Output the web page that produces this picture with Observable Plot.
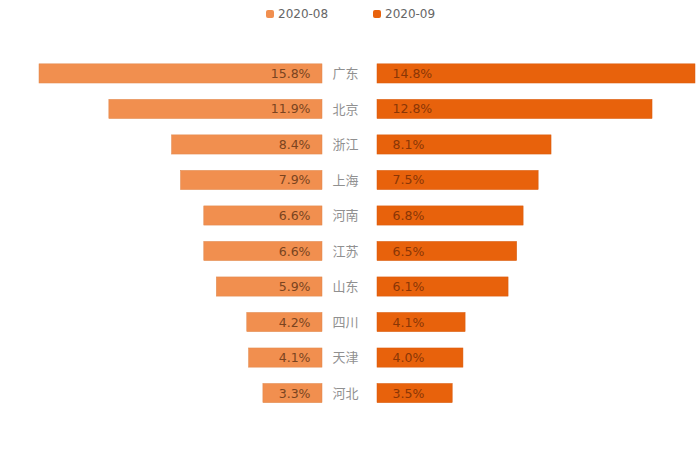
<!DOCTYPE html>
<html>
<head>
<meta charset="utf-8">
<script src="https://cdn.jsdelivr.net/npm/d3@7"></script>
<script src="https://cdn.jsdelivr.net/npm/@observablehq/plot@0.6"></script>
<style>
  html, body { margin: 0; padding: 0; background: #fff; }
  #wrap { position: relative; width: 700px; height: 466px; overflow: hidden; font-family: "DejaVu Sans", "Noto Sans CJK SC", sans-serif; }
  #legend { position: absolute; left: 0; top: 0; width: 700px; height: 28px; }
  .li { position: absolute; top: 7px; font-size: 12px; color: #666; line-height: 14px; white-space: nowrap; }
  .sw { display: inline-block; width: 8px; height: 8px; border-radius: 2px; margin-right: 4px; vertical-align: 0px; }
  #left { position: absolute; left: 0; top: 28px; z-index: 2; }
  #right { position: absolute; left: 350px; top: 28px; z-index: 1; }
  svg { overflow: visible; }
</style>
</head>
<body>
<div id="wrap">
  <div id="legend"></div>
  <div id="left"></div>
  <div id="right"></div>
</div>
<script>
const provinces = ["广东", "北京", "浙江", "上海", "河南", "江苏", "山东", "四川", "天津", "河北"];
const aug = [15.8, 11.9, 8.4, 7.9, 6.6, 6.6, 5.9, 4.2, 4.1, 3.3];
const sep = [14.8, 12.8, 8.1, 7.5, 6.8, 6.5, 6.1, 4.1, 4.0, 3.5];
const seriesNames = ["2020-08", "2020-09"];
const colors = ["#F18F4F", "#E8620C"];
const textColors = ["#7a4420", "#8a3606"];

const dataAug = provinces.map((p, i) => ({province: p, value: aug[i]}));
const dataSep = provinces.map((p, i) => ({province: p, value: sep[i]}));

// legend
const legend = document.getElementById("legend");
const legendX = [266, 373];
seriesNames.forEach((s, i) => {
  const d = document.createElement("div");
  d.className = "li";
  d.style.left = legendX[i] + "px";
  d.innerHTML = `<span class="sw" style="background:${colors[i]}"></span>${s}`;
  legend.appendChild(d);
});

const common = {
  width: 350,
  height: 438,
  marginTop: 19.5,
  marginBottom: 47,
  style: {fontFamily: "DejaVu Sans, Noto Sans CJK SC, sans-serif", background: "transparent", overflow: "visible"}
};
const yOpt = {domain: provinces, axis: null, padding: 0.46, round: false};

const leftPlot = Plot.plot({
  ...common,
  marginLeft: 39,
  marginRight: 28,
  x: {domain: [0, 15.8], reverse: true, axis: null},
  y: yOpt,
  marks: [
    Plot.barX(dataAug, {x: "value", y: "province", fill: colors[0], stroke: "#e0874c", strokeWidth: 0.5}),
    Plot.text(dataAug, {x: 0, y: "province", text: d => d.value.toFixed(1) + "%", textAnchor: "end", dx: -12, fill: textColors[0], fontSize: 12.5}),
    Plot.text(dataAug, {x: 0, y: "province", text: "province", textAnchor: "middle", dx: 23, fill: "#909090", fontSize: 13, fontFamily: "Noto Sans CJK SC"})
  ]
});
document.getElementById("left").appendChild(leftPlot);

const rightPlot = Plot.plot({
  ...common,
  marginLeft: 27,
  marginRight: 5,
  x: {domain: [0, 14.8], axis: null},
  y: yOpt,
  marks: [
    Plot.barX(dataSep, {x: "value", y: "province", fill: colors[1], stroke: "#d85a0c", strokeWidth: 0.5}),
    Plot.text(dataSep, {x: 0, y: "province", text: d => d.value.toFixed(1) + "%", textAnchor: "start", dx: 15, fill: textColors[1], fontSize: 12.5})
  ]
});
document.getElementById("right").appendChild(rightPlot);
</script>
</body>
</html>
